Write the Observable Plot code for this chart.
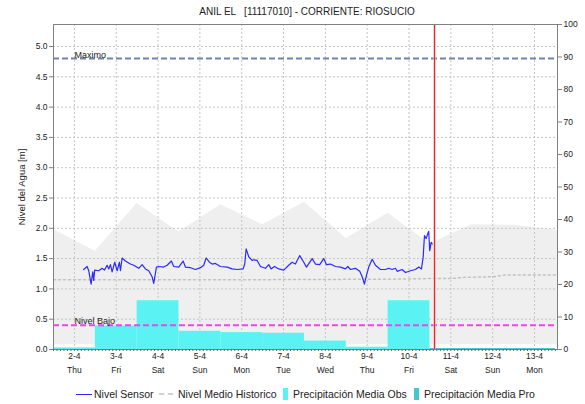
<!DOCTYPE html>
<html><head><meta charset="utf-8">
<script src="https://cdn.jsdelivr.net/npm/d3@7"></script>
<script src="https://cdn.jsdelivr.net/npm/@observablehq/plot@0.6"></script>
<style>
body{margin:0;background:#fff;font-family:"Liberation Sans",Arial,sans-serif}
#wrap{position:relative;width:585px;height:404px;overflow:hidden}
#title{position:absolute;top:6px;left:55px;width:504px;text-align:center;font-size:10px;color:#222;white-space:pre}
#chart{position:absolute;left:0;top:0}
.lg{position:absolute;top:386px;height:16px;display:flex;align-items:center;font-size:10.5px;color:#222;white-space:nowrap}
.sw-line{display:inline-block;width:16px;height:0;border-top:1.5px solid #2a2aff;margin-right:2px}
.sw-dot{display:inline-block;width:14px;height:0;border-top:2px dashed #d2d2d2;margin-right:5px}
.sw-rect{display:inline-block;width:5px;height:12px;margin-right:5px}
</style></head><body>
<div id="wrap">
<div id="chart"></div>
<div id="title"></div>
<div class="lg" style="left:76px"><span class="sw-line"></span>Nivel Sensor</div>
<div class="lg" style="left:159px"><span class="sw-dot"></span>Nivel Medio Historico</div>
<div class="lg" style="left:283px"><span class="sw-rect" style="background:#5af2f2"></span>Precipitación Media Obs</div>
<div class="lg" style="left:414px"><span class="sw-rect" style="background:#46c8c8"></span>Precipitación Media Pro</div>
</div>
<script>
// ---- data ----
const title = "ANIL EL   [11117010] - CORRIENTE: RIOSUCIO";
const yLabel = "Nivel del Agua [m]";
const days = [2,3,4,5,6,7,8,9,10,11,12,13];
const dayLabels = ["2-4","3-4","4-4","5-4","6-4","7-4","8-4","9-4","10-4","11-4","12-4","13-4"];
const weekdays = ["Thu","Fri","Sat","Sun","Mon","Tue","Wed","Thu","Fri","Sat","Sun","Mon"];
const levelTicks = [0,0.5,1,1.5,2,2.5,3,3.5,4,4.5,5];
const precipTicks = [0,10,20,30,40,50,60,70,80,90,100];
const xDomain = [1.5, 13.55];
const levelMax = 5.363;          // level value at precip 100
const nowDay = 10.61;
const maximo = 4.8;
const nivelBajo = 0.4;

const obsDays = [2,3,4,5,6,7,8,9,10];
const obsPrecip = [0.5,7.2,15,5.6,5.2,5.0,2.6,0.7,15];
const proDays = [11,12,13];
const proPrecip = [0.3,0.3,0.3];

const bandDay  = [1.5,2.5,3.5,4.5,5.5,6.5,7.5,8.5,9.5,10.5,11.5,12.5,13.5,13.55];
const bandHigh = [1.98,1.62,2.41,1.94,2.39,2.06,2.43,1.83,2.25,1.74,2.06,2.05,1.97,1.96];
const bandLow  = [0.08,0.08,0.08,0.08,0.08,0.08,0.08,0.08,0.08,0.08,0.08,0.08,0.08,0.08];

const histDay   = [1.5,5.5,9.5,10.5,11.0,11.3,12.0,12.3,13.55];
const histLevel = [1.15,1.15,1.16,1.17,1.17,1.19,1.20,1.23,1.23];

const sensorDay = [2.222,2.304,2.342,2.399,2.438,2.461,2.485,2.581,2.662,2.717,2.782,2.820,2.861,2.901,2.964,3.021,3.076,3.100,3.141,3.220,3.339,3.418,3.538,3.619,3.698,3.777,3.858,3.896,3.961,4.016,4.135,4.217,4.319,4.374,4.494,4.599,4.654,4.774,4.893,5.013,5.092,5.149,5.228,5.293,5.372,5.491,5.651,5.771,5.890,6.034,6.072,6.106,6.168,6.249,6.287,6.369,6.448,6.567,6.646,6.703,6.782,6.885,7.005,7.124,7.205,7.284,7.387,7.483,7.548,7.684,7.763,7.866,7.961,8.026,8.121,8.241,8.360,8.480,8.535,8.600,8.719,8.822,8.880,8.934,8.982,9.037,9.119,9.198,9.317,9.437,9.516,9.597,9.676,9.717,9.836,9.915,10.034,10.154,10.233,10.297,10.338,10.369,10.410,10.448,10.471,10.495,10.529,10.553];
const sensorLevel = [1.32,1.37,1.30,1.08,1.28,1.14,1.31,1.30,1.34,1.31,1.39,1.33,1.40,1.28,1.44,1.30,1.44,1.30,1.51,1.46,1.41,1.39,1.34,1.40,1.33,1.30,1.20,1.09,1.36,1.37,1.36,1.39,1.46,1.37,1.36,1.46,1.36,1.35,1.32,1.35,1.39,1.51,1.44,1.41,1.42,1.37,1.36,1.33,1.32,1.33,1.41,1.66,1.53,1.47,1.48,1.47,1.37,1.34,1.40,1.33,1.37,1.33,1.31,1.39,1.44,1.41,1.55,1.44,1.36,1.50,1.41,1.40,1.50,1.40,1.41,1.37,1.36,1.33,1.37,1.32,1.34,1.29,1.20,1.08,1.22,1.36,1.49,1.39,1.32,1.32,1.34,1.32,1.34,1.29,1.32,1.27,1.30,1.32,1.36,1.33,1.52,1.88,1.83,1.91,1.95,1.63,1.77,1.74];

// ---- build ----
document.getElementById("title").textContent = title;
const K = levelMax / 100;
const obs = obsDays.map((d,i)=>({d, p: obsPrecip[i]}));
const pro = proDays.map((d,i)=>({d, p: proPrecip[i]}));
const band = bandDay.map((d,i)=>({d, lo: bandLow[i], hi: bandHigh[i]}));
const hist = histDay.map((d,i)=>({d, v: histLevel[i]}));
const sensor = sensorDay.map((d,i)=>({d, v: sensorLevel[i]}));
const minor = d3.range(xDomain[0], xDomain[1], 1/12);
const grid = "#c4c4c4";

const chart = Plot.plot({
  width: 585, height: 380,
  marginLeft: 53, marginRight: 28, marginTop: 24, marginBottom: 31,
  style: {fontFamily: "Liberation Sans, Arial, sans-serif", fontSize: "8.5px", color: "#222", background: "transparent"},
  x: {type: "linear", domain: xDomain},
  y: {domain: [0, levelMax]},
  marks: [
    Plot.areaY(band, {x: "d", y1: "lo", y2: "hi", fill: "#efefef"}),
    Plot.gridY(levelTicks.slice(1), {stroke: grid, strokeOpacity: 1, strokeDasharray: "2,2"}),
    Plot.gridX(days, {stroke: grid, strokeOpacity: 1, strokeDasharray: "2,2"}),
    Plot.rectY(obs, {x1: d=>d.d-0.5, x2: d=>Math.min(d.d+0.5, nowDay), y: d=>d.p*K, fill: "#5af2f2"}),
    Plot.rectY(pro, {x1: d=>d.d-0.5, x2: d=>Math.min(d.d+0.5, xDomain[1]), y: d=>d.p*K, fill: "#46c8c8"}),
    Plot.line(hist, {x: "d", y: "v", stroke: "#c2c2c2", strokeWidth: 1.5, strokeDasharray: "2,3"}),
    Plot.ruleY([maximo], {stroke: "#7282b4", strokeWidth: 2, strokeDasharray: "6,3"}),
    Plot.ruleY([nivelBajo], {stroke: "#ee46ee", strokeWidth: 2, strokeDasharray: "6,3"}),
    Plot.text(["Maximo"], {x: days[0], y: maximo, textAnchor: "start", lineAnchor: "bottom", dy: -1, fontSize: 9, fill: "#222"}),
    Plot.text(["Nivel Bajo"], {x: days[0], y: nivelBajo, textAnchor: "start", lineAnchor: "bottom", dy: -1, fontSize: 9, fill: "#222"}),
    Plot.line(sensor, {x: "d", y: "v", stroke: "#2a2aff", strokeWidth: 1.2}),
    Plot.ruleX([nowDay], {stroke: "#f6b0b0", strokeWidth: 2.2}),
    Plot.ruleX([nowDay], {stroke: "#e02828", strokeWidth: 1}),
    Plot.frame({stroke: "#808080"}),
    Plot.axisY(levelTicks, {anchor: "left", tickFormat: d3.format(".1f"), tickSize: 4, tickPadding: 2, stroke: "#808080", label: null}),
    Plot.axisY([], {anchor: "left", fontSize: 9.5, label: yLabel, labelAnchor: "center", labelArrow: "none", labelOffset: 35}),
    Plot.axisY(precipTicks.map(p=>p*K), {anchor: "right", tickFormat: v=>String(Math.round(v/K)), tickSize: 4, tickPadding: 2, stroke: "#808080", label: null}),
    Plot.axisX(minor, {anchor: "bottom", tickSize: 2, tickFormat: ()=>"", stroke: "#666", label: null}),
    Plot.axisX(days, {anchor: "bottom", tickSize: 0, tickPadding: 3, tickFormat: d=>dayLabels[days.indexOf(d)], label: null}),
    Plot.axisX(days, {anchor: "bottom", tickSize: 0, tickPadding: 17, tickFormat: d=>weekdays[days.indexOf(d)], label: null})
  ]
});
document.getElementById("chart").appendChild(chart);
</script>
</body></html>
